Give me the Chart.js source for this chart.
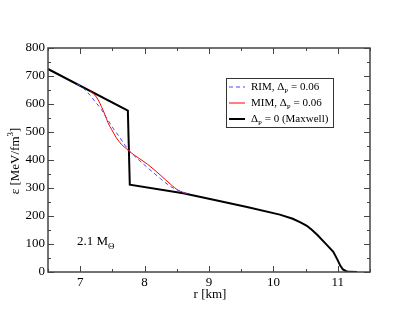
<!DOCTYPE html>
<html>
<head>
<meta charset="utf-8">
<script src="https://cdn.jsdelivr.net/npm/chart.js@4/dist/chart.umd.min.js"></script>
<style>
  html, body { margin: 0; padding: 0; background: #fff; }
</style>
</head>
<body>
<canvas id="c" width="415" height="321"></canvas>
<script>
// データ (r [km], ε [MeV/fm^3])
const maxR = [6.5, 7.74, 7.77, 8.6, 9.07, 9.59, 10.1, 10.3, 10.42, 10.52, 10.6, 10.68, 10.8, 10.93, 10.99, 11.04, 11.08, 11.13, 11.18, 11.3];
const maxE = [725, 576, 312, 281, 258, 232, 205, 190, 177, 165, 150, 133, 104, 72, 46, 22, 9, 3, 0.5, 0];
const rimR = [6.95, 7.05, 7.12, 7.23, 7.33, 7.41, 7.51, 7.62, 7.72, 7.8, 7.95, 8.1, 8.25, 8.4, 8.6, 8.7];
const rimE = [672, 656, 640, 609, 580, 550, 514, 479, 445, 424, 392, 362, 333, 306, 284, 279];
const mimR = [7.15, 7.25, 7.33, 7.38, 7.43, 7.49, 7.56, 7.64, 7.72, 7.8, 7.9, 8.05, 8.24, 8.4, 8.53, 8.65];
const mimE = [648, 625, 591, 564, 534, 508, 480, 456, 440, 424, 408, 384, 347, 314, 291, 281];

const xTicks = [7, 8, 9, 10, 11];
const yTicks = [0, 100, 200, 300, 400, 500, 600, 700, 800];

const serif = "'Liberation Serif', 'DejaVu Serif', serif";

function toPoints(xs, ys) {
    return xs.map((x, i) => ({ x: x, y: ys[i] }));
}

// 枠と目盛り
const frame = {
    id: 'frame',
    afterDraw(chart) {
        const ctx = chart.ctx;
        const a = chart.chartArea;
        const xs = chart.scales.x;
        const ys = chart.scales.y;
        ctx.save();
        ctx.strokeStyle = '#444';
        ctx.lineWidth = 1.5;
        ctx.strokeRect(a.left, a.top, a.right - a.left, a.bottom - a.top);
        ctx.lineWidth = 1;
        for (let i = 0; i <= 10; i++) {
            const v = 6.5 + i * 0.5;
            const px = Math.round(xs.getPixelForValue(v)) + 0.5;
            const len = (i % 2 === 1) ? 6 : 3;
            ctx.beginPath();
            ctx.moveTo(px, a.bottom); ctx.lineTo(px, a.bottom - len);
            ctx.moveTo(px, a.top); ctx.lineTo(px, a.top + len);
            ctx.stroke();
        }
        for (let i = 0; i <= 16; i++) {
            const v = i * 50;
            const py = Math.round(ys.getPixelForValue(v)) + 0.5;
            const len = (i % 2 === 0) ? 6 : 3;
            ctx.beginPath();
            ctx.moveTo(a.left, py); ctx.lineTo(a.left + len, py);
            ctx.moveTo(a.right, py); ctx.lineTo(a.right - len, py);
            ctx.stroke();
        }
        ctx.restore();
    }
};

// 凡例・注記・軸タイトル
const labels = {
    id: 'labels',
    afterDraw(chart) {
        const ctx = chart.ctx;
        ctx.save();
        const lx = 226, ly = 78, lw = 107, lh = 49;
        ctx.fillStyle = '#fff';
        ctx.fillRect(lx, ly, lw, lh);
        ctx.lineWidth = 1;
        ctx.strokeStyle = '#333';
        ctx.strokeRect(lx + 0.5, ly + 0.5, lw, lh);
        const rows = [
            { color: '#4a4aff', dash: [4, 3], width: 1, pre: 'RIM, \u0394', post: ' = 0.06' },
            { color: '#ff0000', dash: [], width: 1, pre: 'MIM, \u0394', post: ' = 0.06' },
            { color: '#000', dash: [], width: 2, pre: '\u0394', post: ' = 0 (Maxwell)' }
        ];
        rows.forEach((r, i) => {
            const y = ly + 9 + i * 16;
            ctx.beginPath();
            ctx.setLineDash(r.dash);
            ctx.strokeStyle = r.color;
            ctx.lineWidth = r.width;
            ctx.moveTo(229, y); ctx.lineTo(245, y);
            ctx.stroke();
            ctx.setLineDash([]);
            ctx.fillStyle = '#000';
            ctx.textBaseline = 'middle';
            ctx.textAlign = 'left';
            ctx.font = '11px ' + serif;
            let tx = 251;
            ctx.fillText(r.pre, tx, y);
            tx += ctx.measureText(r.pre).width;
            ctx.font = '7px ' + serif;
            ctx.fillText('P', tx, y + 4);
            tx += ctx.measureText('P').width;
            ctx.font = '11px ' + serif;
            ctx.fillText(r.post, tx, y);
        });

        ctx.fillStyle = '#000';
        ctx.textBaseline = 'alphabetic';
        ctx.textAlign = 'left';
        ctx.font = '13px ' + serif;
        ctx.fillText('2.1 M', 77, 245);
        const mw = ctx.measureText('2.1 M').width;
        ctx.font = '9px ' + serif;
        ctx.fillText('\u0398', 77 + mw, 249);

        ctx.font = '13px ' + serif;
        ctx.textAlign = 'center';
        ctx.fillText('r [km]', 210, 298);

        ctx.translate(19, 161);
        ctx.rotate(-Math.PI / 2);
        ctx.textAlign = 'left';
        const t1 = '\u03b5 [MeV/fm';
        const w1 = ctx.measureText(t1).width;
        const w2 = ctx.measureText(']').width;
        ctx.font = '9px ' + serif;
        const w3 = ctx.measureText('3').width;
        const start = -(w1 + w2 + w3) / 2;
        ctx.font = '13px ' + serif;
        ctx.fillText(t1, start, 0);
        ctx.font = '9px ' + serif;
        ctx.fillText('3', start + w1, -6);
        ctx.font = '13px ' + serif;
        ctx.fillText(']', start + w1 + w3, 0);
        ctx.restore();
    }
};

const config = {
    type: 'scatter',
    data: {
        datasets: [
            {
                label: 'RIM',
                data: toPoints(rimR, rimE),
                showLine: true,
                borderColor: '#4a4aff',
                borderWidth: 1,
                borderDash: [4, 3],
                pointRadius: 0,
                cubicInterpolationMode: 'monotone'
            },
            {
                label: 'MIM',
                data: toPoints(mimR, mimE),
                showLine: true,
                borderColor: '#ff0000',
                borderWidth: 1,
                pointRadius: 0,
                cubicInterpolationMode: 'monotone'
            },
            {
                label: 'Maxwell',
                data: toPoints(maxR, maxE),
                showLine: true,
                borderColor: '#000',
                borderWidth: 2,
                pointRadius: 0,
                tension: 0
            }
        ]
    },
    options: {
        responsive: false,
        animation: false,
        layout: { padding: { top: 48, right: 45, left: 0, bottom: 0 } },
        plugins: { legend: { display: false }, tooltip: { enabled: false } },
        scales: {
            x: {
                type: 'linear',
                min: 6.5, max: 11.5,
                grid: { display: false, tickLength: 0 },
                border: { display: false },
                afterFit: s => { s.height = 49; },
                afterBuildTicks: s => { s.ticks = xTicks.map(v => ({ value: v })); },
                ticks: {
                    padding: 3,
                    color: '#000',
                    font: { family: serif, size: 13 }
                }
            },
            y: {
                type: 'linear',
                min: 0, max: 800,
                grid: { display: false, tickLength: 0 },
                border: { display: false },
                afterFit: s => { s.width = 48; },
                afterBuildTicks: s => { s.ticks = yTicks.map(v => ({ value: v })); },
                ticks: {
                    padding: 3,
                    color: '#000',
                    font: { family: serif, size: 13 }
                }
            }
        }
    },
    plugins: [frame, labels]
};

new Chart(document.getElementById('c').getContext('2d'), config);
</script>
</body>
</html>
